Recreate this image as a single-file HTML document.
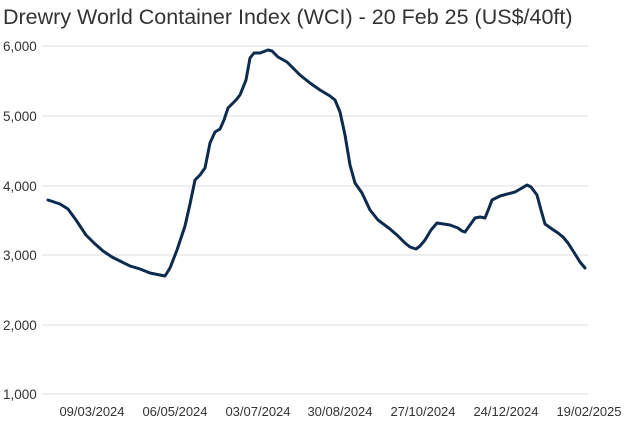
<!DOCTYPE html>
<html><head><meta charset="utf-8"><style>
body{margin:0;background:#fff;}
svg{display:block;font-family:"Liberation Sans",sans-serif;}
</style></head><body>
<svg width="625" height="424" viewBox="0 0 625 424">
<text x="3" y="24" font-size="21.5" fill="#333">Drewry World Container Index (WCI) - 20 Feb 25 (US$/40ft)</text>
<g stroke="#e4e4e4" stroke-width="1.2">
<line x1="42" x2="588" y1="46" y2="46"/><line x1="42" x2="588" y1="116" y2="116"/>
<line x1="42" x2="588" y1="186" y2="186"/><line x1="42" x2="588" y1="255" y2="255"/>
<line x1="42" x2="588" y1="325" y2="325"/><line x1="42" x2="588" y1="394" y2="394"/>
</g>
<g font-size="13.5" fill="#333">
<text x="3" y="51">6,000</text><text x="3" y="121">5,000</text><text x="3" y="191">4,000</text>
<text x="3" y="260">3,000</text><text x="3" y="330">2,000</text><text x="3" y="399">1,000</text>
</g>
<g font-size="13" fill="#333" text-anchor="middle">
<text x="92" y="416">09/03/2024</text><text x="175" y="416">06/05/2024</text><text x="258" y="416">03/07/2024</text>
<text x="340" y="416">30/08/2024</text><text x="423" y="416">27/10/2024</text><text x="506" y="416">24/12/2024</text>
<text x="589" y="416">19/02/2025</text>
</g>
<polyline fill="none" stroke="#0d2a4f" stroke-width="3" stroke-linejoin="round" stroke-linecap="round"
points="48,200 60,204 68,209 76,220 86,235 94,243 103,251 112,257 122,262 130,266 140,269 150,273 160,275 165,276 170,268 177,250 185,226 190,204 195,180 200,175 205,168 210,143 215,132 220,129 224,120 228,108 236,100 240,95 246,80 250,58 254,53 260,53 268,50 272,51 278,57 287,62 300,75 310,83 320,90 330,96 335,100 340,112 345,135 350,165 355,183 362,193 370,210 378,220 390,229 398,236 405,243 410,247 416,249 420,246 425,240 431,230 437,223 450,225 458,228 462,231 465,232 470,225 475,218 480,217 485,218 489,208 492,200 500,196 515,192 522,188 527,185 531,187 537,195 541,210 545,224 552,229 558,233 563,237 568,243 575,254 580,262 585,268"/>
</svg>
</body></html>
